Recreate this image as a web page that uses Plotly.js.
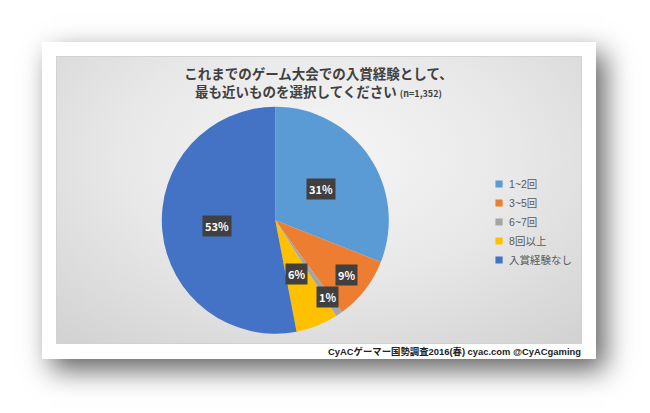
<!DOCTYPE html>
<html><head><meta charset="utf-8">
<script src="https://cdn.plot.ly/plotly-3.0.1.min.js"></script>
<style>
html,body{margin:0;padding:0;background:#fff;width:650px;height:413px;overflow:hidden;}
#frame{position:absolute;left:42px;top:42px;width:554px;height:317px;background:#fff;box-shadow:9px 11px 26px rgba(0,0,0,0.62);}
#bg{position:absolute;left:56px;top:56px;width:526px;height:288px;box-sizing:border-box;border:1px solid #d2d2d2;
background:radial-gradient(ellipse 75% 85% at 50% 35%, #f6f6f6 0%, #e8e8e8 50%, #d2d2d2 100%);}
#chart{position:absolute;left:0;top:0;width:650px;height:413px;}
</style></head><body>
<div id="frame"></div><div id="bg"></div><div id="chart"></div>
<script>
const categories = ['1~2回', '3~5回', '6~7回', '8回以上', '入賞経験なし'];
const shares = [31, 9, 1, 6, 53];
const colors = ['#5B9BD5', '#ED7D31', '#A5A5A5', '#FFC000', '#4472C4'];
const titleLine1 = 'これまでのゲーム大会での入賞経験として、';
const titleLine2 = '最も近いものを選択してください';
const sampleNote = '(n=1,352)';
const footerText = 'CyACゲーマー国勢調査2016(春) cyac.com @CyACgaming';

// label placement (style): radial fraction of each percent label
const labelRadius = [0.49, 0.79, 0.82, 0.51, 0.515];

const W = 650, H = 413;
const FONT = '"Liberation Sans", "Noto Sans CJK JP", sans-serif';
const CJK = '"Noto Sans CJK JP", sans-serif';
const dom = {x: [0.2488, 0.5983], y: [0.192, 0.7416]};

const total = shares.reduce((a, b) => a + b, 0);
const cx = (dom.x[0] + dom.x[1]) / 2 * W;
const cy = (1 - (dom.y[0] + dom.y[1]) / 2) * H;
const R = Math.min((dom.x[1] - dom.x[0]) * W, (dom.y[1] - dom.y[0]) * H) / 2;

const annotations = [];
let acc = 0;
shares.forEach((v, i) => {
  const mid = (acc + v / 2) / total * 2 * Math.PI;
  acc += v;
  const px = cx + labelRadius[i] * R * Math.sin(mid);
  const py = cy - labelRadius[i] * R * Math.cos(mid);
  annotations.push({
    x: px / W, y: 1 - py / H, xref: 'paper', yref: 'paper',
    text: '<b>' + Math.round(v / total * 100) + '%</b>', showarrow: false,
    xanchor: 'center', yanchor: 'middle',
    font: {color: '#ffffff', size: 11, family: CJK},
    bgcolor: '#404040', borderpad: 2
  });
});
annotations.push({
  x: 583 / W, y: 1 - 351 / H, xref: 'paper', yref: 'paper',
  xanchor: 'right', yanchor: 'middle', showarrow: false,
  text: '<b>' + footerText + '</b>',
  font: {color: '#222222', size: 9.4, family: FONT}
});

const trace = {
  type: 'pie', labels: categories, values: shares, sort: false,
  direction: 'clockwise', rotation: 0, textinfo: 'none', hoverinfo: 'none',
  marker: {colors: colors, line: {width: 0}},
  domain: dom
};

const layout = {
  width: W, height: H, margin: {l: 0, r: 0, t: 0, b: 0},
  paper_bgcolor: 'rgba(0,0,0,0)', plot_bgcolor: 'rgba(0,0,0,0)',
  font: {family: FONT},
  title: {
    text: '<b>' + titleLine1 + '<br>' + titleLine2 + ' <span style="font-size:9px">' + sampleNote + '</span></b>',
    font: {size: 13.5, color: '#404040', family: CJK},
    x: 0.49, xanchor: 'center', y: 1 - 79 / H, yanchor: 'top', yref: 'container'
  },
  showlegend: true,
  legend: {
    x: 0.7216, xanchor: 'left', y: 1 - 222 / H, yanchor: 'middle',
    bgcolor: 'rgba(0,0,0,0)', font: {size: 10.5, color: '#595959', family: FONT},
    itemwidth: 30
  },
  annotations: annotations
};

Plotly.newPlot('chart', [trace], layout, {displayModeBar: false, staticPlot: true}).then(gd => {
  gd.querySelectorAll('.legendpoints path').forEach(p => {
    p.setAttribute('transform', 'translate(30,0) scale(0.6)');
  });
});
</script>
</body></html>
